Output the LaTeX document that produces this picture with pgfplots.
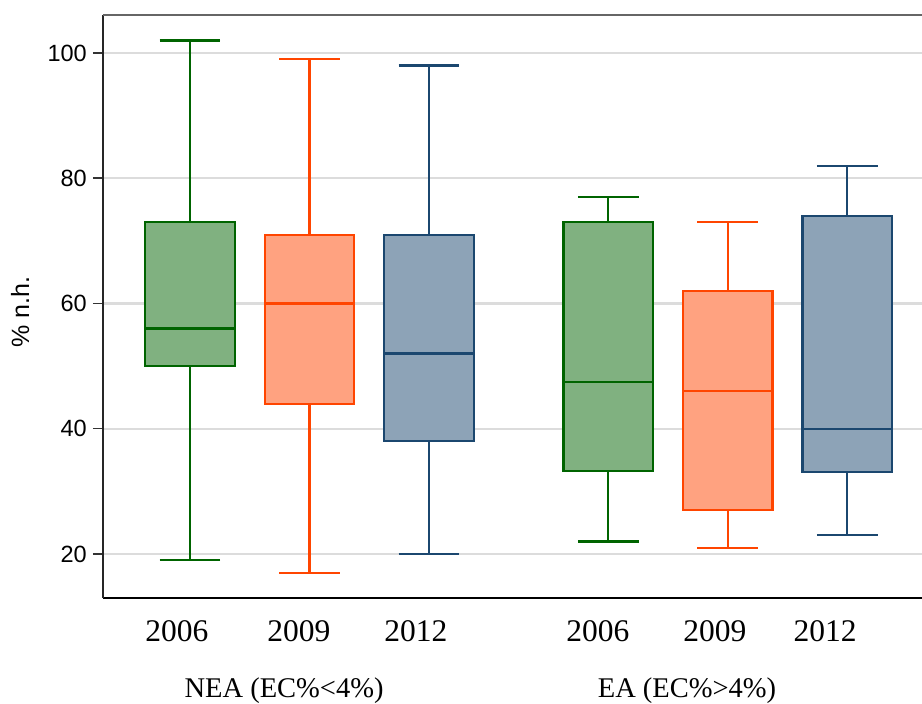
\documentclass[border=0pt]{standalone}
\usepackage{fontspec}
\setmainfont{Liberation Serif}
\newfontfamily\arial{Liberation Sans}
\usepackage{pgfplots}
\pgfplotsset{compat=1.18}
\usepgfplotslibrary{statistics}

\definecolor{cgreen}{HTML}{006400}
\definecolor{corange}{HTML}{FF4500}
\definecolor{cblue}{HTML}{1B476F}
\definecolor{ctop}{HTML}{666666}
\definecolor{cgrid}{HTML}{DCDCDC}

\begin{document}
\begin{tikzpicture}
\useasboundingbox (0,0) rectangle (922pt,704pt);
\begin{axis}[
  at={(103pt,106pt)}, anchor=south west,
  scale only axis, width=819pt, height=583pt,
  xmin=0.272, xmax=7.1255, ymin=12.97, ymax=106.07,
  axis x line*=bottom, axis y line*=left,
  x axis line style={line width=2.6pt, black},
  y axis line style={line width=1.8pt, black!85},
  clip=false,
  /pgf/number format/assume math mode=true,
  ytick={20,40,60,80,100},
  ymajorgrids, grid style={line width=2.2pt, cgrid},
  tick align=outside, major tick length=10pt,
  ytick style={line width=1.5pt, black!80},
  xtick style={draw=none},
  yticklabel style={font=\arial\fontsize{23.5}{27}\selectfont, inner sep=0pt, xshift=-6pt},
  xtick={0.891,1.912,2.891,4.414,5.393,6.314},
  xticklabels={2006,2009,2012,2006,2009,2012},
  xticklabel style={font=\fontsize{31.5}{35}\selectfont, anchor=base, inner sep=0pt, yshift=-34pt},
  ylabel={\% n.h.},
  ylabel style={font=\arial\fontsize{25}{29}\selectfont, at={(axis description cs:-0.1013,0.49)}, anchor=center},
  boxplot/draw direction=y,
]
% NEA (EC% < 4%)
\addplot[draw=cgreen, fill=cgreen!50, line width=2.2pt, boxplot prepared={draw position=1,
  lower whisker=19, lower quartile=50, median=56, upper quartile=73, upper whisker=102,
  box extend=0.75, whisker extend=0.51}] coordinates {};
\addplot[draw=corange, fill=corange!50, line width=2.2pt, boxplot prepared={draw position=2,
  lower whisker=17, lower quartile=44, median=60, upper quartile=71, upper whisker=99,
  box extend=0.75, whisker extend=0.51}] coordinates {};
\addplot[draw=cblue, fill=cblue!50, line width=2.2pt, boxplot prepared={draw position=3,
  lower whisker=20, lower quartile=38, median=52, upper quartile=71, upper whisker=98,
  box extend=0.75, whisker extend=0.51}] coordinates {};
% EA (EC% > 4%)
\addplot[draw=cgreen, fill=cgreen!50, line width=2.2pt, boxplot prepared={draw position=4.5,
  lower whisker=22, lower quartile=33.2, median=47.5, upper quartile=73, upper whisker=77,
  box extend=0.75, whisker extend=0.51}] coordinates {};
\addplot[draw=corange, fill=corange!50, line width=2.2pt, boxplot prepared={draw position=5.5,
  lower whisker=21, lower quartile=27, median=46, upper quartile=62, upper whisker=73,
  box extend=0.75, whisker extend=0.51}] coordinates {};
\addplot[draw=cblue, fill=cblue!50, line width=2.2pt, boxplot prepared={draw position=6.5,
  lower whisker=23, lower quartile=33.1, median=40, upper quartile=74, upper whisker=82,
  box extend=0.75, whisker extend=0.51}] coordinates {};

% top frame line
\draw[ctop, line width=2pt] (rel axis cs:0,1) -- (rel axis cs:1,1);
% group captions
\node[font=\fontsize{28.5}{32}\selectfont, anchor=base, yshift=-100pt] at (axis cs:1.787,12.97) {NEA (EC\%<4\%)};
\node[font=\fontsize{28.5}{32}\selectfont, anchor=base, yshift=-100pt] at (axis cs:5.159,12.97) {EA (EC\%>4\%)};
\end{axis}
\end{tikzpicture}
\end{document}
